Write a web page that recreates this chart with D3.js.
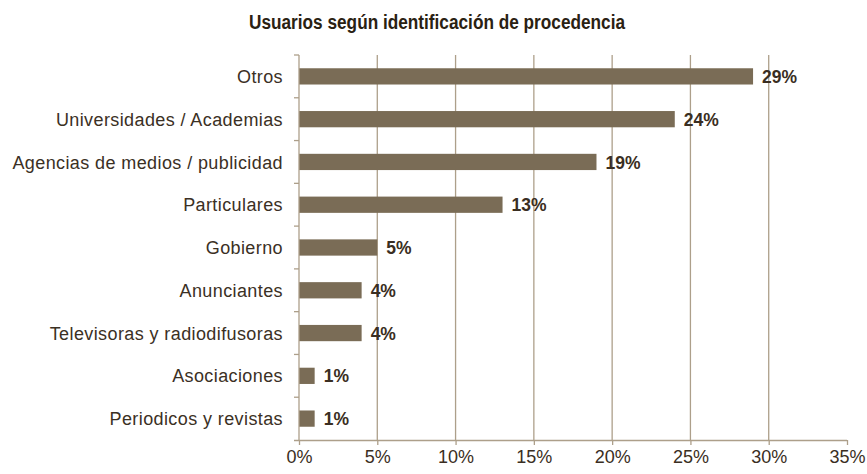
<!DOCTYPE html>
<html>
<head>
<meta charset="utf-8">
<script src="https://cdn.jsdelivr.net/npm/d3@7"></script>
<style>
  body { margin: 0; background: #fff; }
  svg { display: block; }
</style>
</head>
<body>
<div id="chart"></div>
<script>
var svgWidth = 867;
var svgHeight = 474;

// data
var categories = ["Otros", "Universidades / Academias", "Agencias de medios / publicidad",
  "Particulares", "Gobierno", "Anunciantes", "Televisoras y radiodifusoras",
  "Asociaciones", "Periodicos y revistas"];
var values = [29, 24, 19, 13, 5, 4, 4, 1, 1];
var xTicks = [0, 5, 10, 15, 20, 25, 30, 35];

var margin = { top: 55, right: 20, bottom: 34, left: 299 };
var width = 847 - margin.left;
var height = 440 - margin.top;

var svg = d3.select("#chart")
  .append("svg")
  .attr("width", svgWidth)
  .attr("height", svgHeight);

// title: condensed look via textLength
svg.append("text")
  .attr("x", 249)
  .attr("y", 29)
  .attr("textLength", 376)
  .attr("lengthAdjust", "spacingAndGlyphs")
  .style("font-family", "'Liberation Sans', Arial, sans-serif")
  .style("font-weight", "bold")
  .style("font-size", "19.5px")
  .style("fill", "#2a2112")
  .text("Usuarios según identificación de procedencia");

var chartGroup = svg.append("g")
  .attr("transform", `translate(${margin.left}, ${margin.top})`);

var x = d3.scaleLinear().domain([0, 35]).range([0, width]);
var y = d3.scaleBand().domain(categories).range([0, height]).paddingInner(0.62).paddingOuter(0.31);

var gridColor = "#ad9f8a";

// vertical grid lines
chartGroup.selectAll(".grid")
  .data(xTicks.filter(d => d > 0 && d < 35))
  .enter()
  .append("line")
  .attr("x1", d => x(d))
  .attr("x2", d => x(d))
  .attr("y1", 0)
  .attr("y2", height)
  .style("stroke", gridColor)
  .style("stroke-width", 1.3);

// bars
chartGroup.selectAll("rect")
  .data(values)
  .enter()
  .append("rect")
  .attr("x", 0)
  .attr("y", (d, i) => y(categories[i]))
  .attr("width", d => x(d))
  .attr("height", y.bandwidth())
  .style("fill", "#7a6c56");

// bottom axis
var bottomAxis = d3.axisBottom(x)
  .tickValues(xTicks)
  .tickFormat(d => d + "%")
  .tickSizeInner(5)
  .tickSizeOuter(0)
  .tickPadding(5);

var xAxis = chartGroup.append("g")
  .attr("transform", `translate(0, ${height})`)
  .call(bottomAxis);
xAxis.select(".domain").attr("d", `M-5,0.5H${width}`).style("stroke", gridColor).style("stroke-width", 1.3);
xAxis.selectAll(".tick line").style("stroke", gridColor).style("stroke-width", 1.3);
xAxis.selectAll(".tick text")
  .style("font-family", "'Liberation Sans', Arial, sans-serif")
  .style("font-size", "18px")
  .style("fill", "#3a2e22");

// left axis with ticks between categories
var leftAxis = chartGroup.append("g");
leftAxis.append("line")
  .attr("x1", 0).attr("x2", 0)
  .attr("y1", 0).attr("y2", height)
  .style("stroke", gridColor)
  .style("stroke-width", 1.3);
leftAxis.selectAll(".ltick")
  .data(d3.range(categories.length))
  .enter()
  .append("line")
  .attr("x1", -5).attr("x2", 0)
  .attr("y1", i => y(categories[i]) - y.step() * y.paddingInner() / 2)
  .attr("y2", i => y(categories[i]) - y.step() * y.paddingInner() / 2)
  .style("stroke", gridColor)
  .style("stroke-width", 1.3);

// category labels
chartGroup.selectAll(".cat")
  .data(categories)
  .enter()
  .append("text")
  .attr("x", -16)
  .attr("y", d => y(d) + y.bandwidth() / 2)
  .attr("dy", "0.37em")
  .attr("text-anchor", "end")
  .style("font-family", "'Liberation Sans', Arial, sans-serif")
  .style("font-size", "18px")
  .style("letter-spacing", "0.4px")
  .style("fill", "#3b3024")
  .text(d => d);

// value labels
chartGroup.selectAll(".val")
  .data(values)
  .enter()
  .append("text")
  .attr("x", d => x(d) + 9)
  .attr("y", (d, i) => y(categories[i]) + y.bandwidth() / 2)
  .attr("dy", "0.38em")
  .style("font-family", "'Liberation Sans', Arial, sans-serif")
  .style("font-weight", "bold")
  .style("font-size", "17.5px")
  .style("fill", "#3a2e22")
  .text(d => d + "%");
</script>
</body>
</html>
